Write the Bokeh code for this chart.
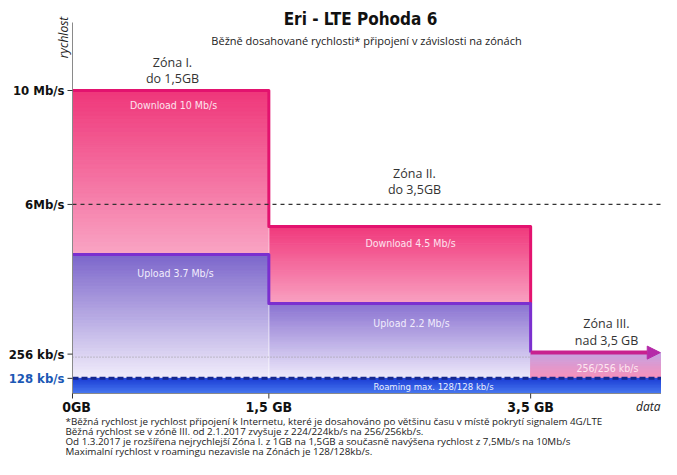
import numpy as np
from bokeh.plotting import figure
from bokeh.models import Range1d, Label, Arrow, NormalHead
from bokeh.embed import file_html
from bokeh.resources import INLINE

# ---------------- data (the original is a schematic, not to scale) -------------
zone_names = ["Zóna I.", "Zóna II.", "Zóna III."]
zone_limits = ["do 1,5GB", "do 3,5GB", "nad 3,5 GB"]
zone_start_gb = [0.0, 1.5, 3.5]
zone_end_gb = [1.5, 3.5, 4.5]
download_labels = ["Download 10 Mb/s", "Download 4.5 Mb/s", "256/256 kb/s"]
upload_labels = ["Upload 3.7 Mb/s", "Upload 2.2 Mb/s"]
# bar heights as drawn in the schematic (chart levels)
download_level = [10.0, 5.51, 1.35]
upload_level = [4.59, 2.97]
roaming_level = 0.50
roaming_label = "Roaming max. 128/128 kb/s"
y_tick_levels = [10.0, 6.24, 1.3, 0.5]
y_tick_labels = ["10 Mb/s", "6Mb/s", "256 kb/s", "128 kb/s"]
y_tick_colors = ["#111111", "#111111", "#111111", "#1b58b5"]
x_tick_gb = [0, 1.5, 3.5]
x_tick_labels = ["0GB", "1,5 GB", "3,5 GB"]
title_text = "Eri - LTE Pohoda 6"
subtitle_text = "Běžně dosahované rychlosti* připojení v závislosti na zónách"
footnotes = [
    "*Běžná rychlost je rychlost připojení k Internetu, které je dosahováno po většinu času v místě pokrytí signalem 4G/LTE",
    " Běžná rychlost se v zóně III. od 2.1.2017 zvyšuje z 224/224kb/s  na 256/256kb/s.",
    " Od 1.3.2017 je rozšířena nejrychlejší Zóna I. z 1GB na 1,5GB a současně navýšena rychlost z 7,5Mb/s na 10Mb/s",
    " Maximalní rychlost v roamingu nezavisle na Zónách je 128/128kb/s.",
]

# ---------------- layout helpers ----------------
PX_PER_GB = 130.9
PX_PER_LEVEL = 30.3
X0_PX, Y0_PX = 72, 393   # picture position of the origin


def X(px):
    return (px - X0_PX) / PX_PER_GB


def Y(py):
    return (Y0_PX - py) / PX_PER_LEVEL


COND = "DejaVu Sans Condensed"
SANS = "Open Sans"

W, H = 661, 459
p = figure(width=W, height=H, output_backend="svg", toolbar_location=None,
           x_range=Range1d(X(0), X(W)), y_range=Range1d(Y(H), Y(0)),
           min_border=0, background_fill_color="white", border_fill_color="white")
p.outline_line_color = None
p.grid.visible = False
p.axis.visible = False


def hex2rgb(h):
    return np.array([int(h[i:i + 2], 16) for i in (1, 3, 5)], float)


def gradient(x0, x1, y0, y1, c_top, c_bot, n=40):
    edges = np.linspace(y0, y1, n + 1)
    t = (np.arange(n) + 0.5) / n
    ct, cb = hex2rgb(c_top), hex2rgb(c_bot)
    cols = ["#%02x%02x%02x" % tuple(int(round(v)) for v in cb + (ct - cb) * ti) for ti in t]
    p.quad(left=x0, right=x1, bottom=edges[:-1], top=edges[1:],
           fill_color=cols, line_color=cols, line_width=1)


# download areas (visible part above the upload areas)
gradient(zone_start_gb[0], zone_end_gb[0], upload_level[0], download_level[0], "#ef377a", "#f9a5c4")
gradient(zone_start_gb[1], zone_end_gb[1], upload_level[1], download_level[1], "#f0397c", "#f9a2c2")
# upload areas
gradient(zone_start_gb[0], zone_end_gb[0], roaming_level, upload_level[0], "#7c66cb", "#f2eefb")
gradient(zone_start_gb[1], zone_end_gb[1], roaming_level, upload_level[1], "#8a73d1", "#efeafb")
# zone III
gradient(zone_start_gb[2], zone_end_gb[2], roaming_level, download_level[2], "#c6a2e2", "#f990b9", n=12)
# roaming band
gradient(0, zone_end_gb[2], 0, roaming_level, "#1d3fd6", "#4a7af0", n=10)
p.line([0, zone_end_gb[2]], [roaming_level, roaming_level], line_color="#16288f",
       line_width=3, line_dash="6 3")

# white separator between zone I and II
p.line([zone_end_gb[0], zone_end_gb[0]], [roaming_level, download_level[1]],
       line_color="white", line_width=1, line_alpha=0.8)

# dotted 256 kb/s guide
p.line([0, zone_start_gb[2]], [1.2, 1.2], line_color="#9a9a9a", line_width=1, line_dash="1 2")

# outlines
p.line([zone_start_gb[0], zone_end_gb[0], zone_start_gb[1], zone_end_gb[1], zone_end_gb[1]],
       [download_level[0], download_level[0], download_level[1], download_level[1], upload_level[1]],
       line_color="#e3136f", line_width=3, line_join="round")
p.line([zone_start_gb[0], zone_end_gb[0], zone_start_gb[1], zone_end_gb[1], zone_end_gb[1]],
       [upload_level[0], upload_level[0], upload_level[1], upload_level[1], download_level[2]],
       line_color="#7b2fcf", line_width=3, line_join="round")
p.add_layout(Arrow(x_start=zone_start_gb[2], y_start=download_level[2],
                   x_end=zone_end_gb[2] - 0.01, y_end=download_level[2],
                   line_color="#c8218f", line_width=4,
                   end=NormalHead(size=13, fill_color="#b52aa8", line_color="#b52aa8")))

# 6 Mb/s dashed line
p.line([0, zone_end_gb[2]], [y_tick_levels[1], y_tick_levels[1]], line_color="#333333",
       line_width=1.2, line_dash="4 4")

# axes (drawn on the chart's own scales)
p.line([0, 0], [0, Y(22)], line_color="#8a8a8a", line_width=1)
p.line([0, zone_end_gb[2]], [0, 0], line_color="#8a8a8a", line_width=1)
p.segment(x0=[X(67)] * len(y_tick_levels), x1=[0] * len(y_tick_levels),
          y0=y_tick_levels, y1=y_tick_levels, line_color="#333333", line_width=1)
p.segment(x0=x_tick_gb, x1=x_tick_gb, y0=[0] * len(x_tick_gb), y1=[Y(398)] * len(x_tick_gb),
          line_color="#333333", line_width=1)


def lab(x, y, text, font=SANS, size="12px", color="#222222", style="normal", align="center", angle=0):
    p.add_layout(Label(x=x, y=y, text=text, text_font=font, text_font_size=size,
                       text_color=color, text_font_style=style, text_align=align,
                       text_baseline="middle", angle=angle))


for lv, tx, col in zip(y_tick_levels, y_tick_labels, y_tick_colors):
    lab(X(64), lv, tx, font=COND, size="13px", color=col, style="bold", align="right")
for gb, tx in zip(x_tick_gb, x_tick_labels):
    lab(gb + X(76) if gb == 0 else gb, Y(406), tx, font=COND, size="14px", color="#111111", style="bold")

# title, subtitle, axis names
lab(X(360), Y(18), title_text, font=COND, size="17px", color="#111111", style="bold")
lab(X(366), Y(40), subtitle_text, size="11px")
lab(X(63), Y(37), "rychlost", size="12px", style="italic", angle=np.pi / 2)
lab(X(660), Y(406), "data", size="12px", style="italic", align="right")

# zone labels
for cx, y1, y2, nm, lim in zip([172, 414, 606], [62, 173, 323], [78, 189, 340], zone_names, zone_limits):
    lab(X(cx), Y(y1), nm, size="12.5px", color="#333333")
    lab(X(cx), Y(y2), lim, size="12.5px", color="#333333")

# in-bar labels
lab(X(173), Y(104), download_labels[0], font=COND, size="10.5px", color="#fde3ee")
lab(X(410), Y(242), download_labels[1], font=COND, size="10.5px", color="#fde3ee")
lab(X(607), Y(367), download_labels[2], font=COND, size="10.5px", color="#fde6f0")
lab(X(175), Y(272), upload_labels[0], font=COND, size="10.5px", color="#f1ecfc")
lab(X(411), Y(322), upload_labels[1], font=COND, size="10.5px", color="#f1ecfc")
lab(X(433), Y(386), roaming_label, font=COND, size="9.5px", color="#e8eeff")

# footnotes
for line, y in zip(footnotes, [421, 431, 441, 451]):
    lab(X(65), Y(y), line, size="9.8px", color="#222222", align="left")

open("out.html", "w").write(file_html(p, INLINE))
